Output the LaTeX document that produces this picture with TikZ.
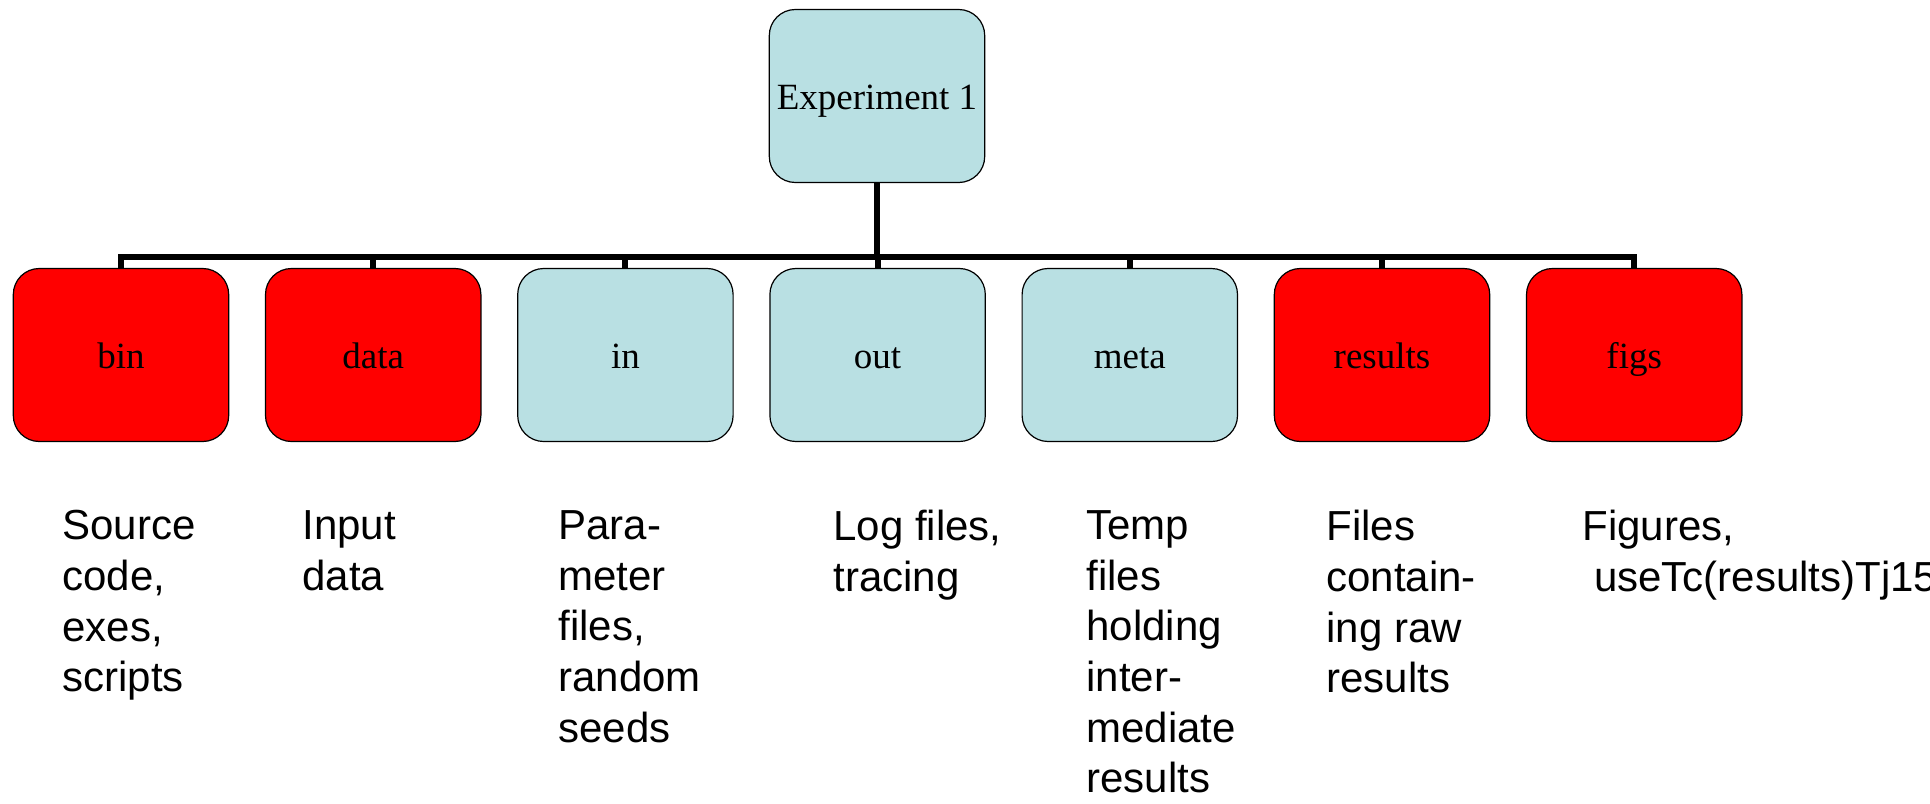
\documentclass[tikz,border=0pt]{standalone}
\usepackage{fontspec}
\setmainfont{Liberation Serif}
\setsansfont{Liberation Sans}
\usetikzlibrary{positioning}

\definecolor{paleblue}{RGB}{185,224,227}
\definecolor{dirred}{RGB}{255,0,0}

\begin{document}
\begin{tikzpicture}[x=0.5pt, y=-0.5pt,
    folder/.style={draw=black, line width=0.6pt, rounded corners=13pt, minimum width=\dirwidth, minimum height=\dirheight, inner sep=0pt, outer sep=0pt, text height=13pt, text depth=0pt, font=\fontsize{18.5}{22}\selectfont},
    trunk/.style={line width=3pt},
    note/.style={anchor=north west, inner sep=0pt, align=left, font=\sffamily\fontsize{21}{25.35}\selectfont}]
  \newcommand\dirwidth{107.7pt}
  \newcommand\dirheight{86.5pt}
  \newcommand\dirgap{18.4pt} % between the folder boxes

  \useasboundingbox (0,0) rectangle (1930,803);

  \node[folder, fill=paleblue] at (877, 96) (exp) {Experiment 1};
  \node[folder, fill=dirred] at (121, 355) (dir1) {bin};

  \foreach \dirlabel/\dircol [count=\previd from 1, evaluate=\previd as \dirid using int(\previd+1)] in {data/dirred, in/paleblue, out/paleblue, meta/paleblue, results/dirred, figs/dirred}{
    \node[folder, fill=\dircol, right=\dirgap of dir\previd] (dir\dirid) {\dirlabel};
  }

  \coordinate (bus) at (877, 257);
  \draw[trunk] (exp.south) -- (exp.south |- bus);
  \draw[trunk] (dir1.north) -- (dir1.north |- bus) -- (dir7.north |- bus) -- (dir7.north);
  \foreach \i in {2,...,6}
    \draw[trunk] (dir\i.north |- bus) -- (dir\i.north);

  \foreach \notex/\notetext [count=\i] in {62/{Source\\code,\\exes,\\scripts}, 302/{Input\\data}, 558/{Para-\\meter\\files,\\random\\seeds}, 833/{Log files,\\tracing}, 1086/{Temp\\files\\holding\\inter-\\mediate\\results}, 1326/{Files\\contain-\\ing raw\\results}, 1582/{Figures,\\\hspace*{0.278em}useTc(results)Tj15}}{
    \node[note] at (\notex, 510) (note\i) {\notetext};
  }
\end{tikzpicture}
\end{document}
